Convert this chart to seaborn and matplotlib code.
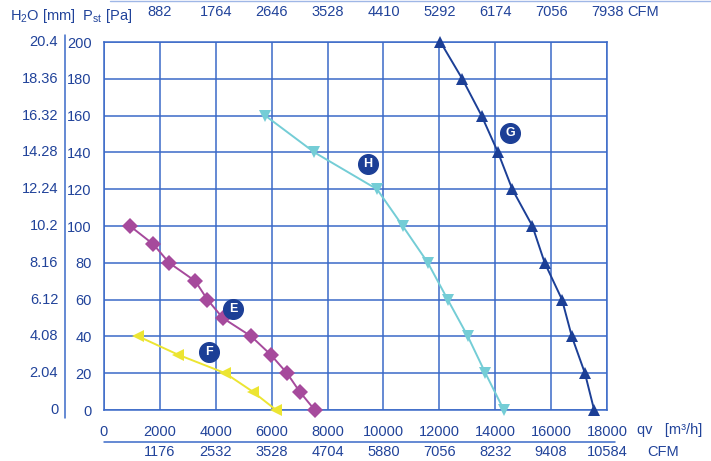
import pandas as pd
import matplotlib.pyplot as plt
import matplotlib.transforms as mtransforms
from matplotlib.lines import Line2D
import seaborn as sns

# Data
e_x = [930, 1770, 2330, 3270, 3700, 4250, 5270, 5970, 6550, 7000, 7540]
e_y = [100, 90, 80, 70, 60, 50, 40, 30, 20, 10, 0]
f_x = [1230, 2660, 4340, 5320, 6160]
f_y = [40, 30, 20, 10, 0]
h_x = [5770, 7530, 9770, 10690, 11590, 12300, 13020, 13650, 14310]
h_y = [160, 140, 120, 100, 80, 60, 40, 20, 0]
g_x = [12040, 12820, 13510, 14100, 14610, 15330, 15770, 16390, 16740, 17210, 17540]
g_y = [200, 180, 160, 140, 120, 100, 80, 60, 40, 20, 0]

tag_names = ["E", "F", "H", "G"]
tag_x = [4630, 3740, 9450, 14530]
tag_y = [54.7, 31.7, 133.5, 150.7]

qv_ticks = [0, 2000, 4000, 6000, 8000, 10000, 12000, 14000, 16000, 18000]
cfm_bottom = ["1176", "2532", "3528", "4704", "5880", "7056", "8232", "9408", "10584"]
cfm_top = ["882", "1764", "2646", "3528", "4410", "5292", "6174", "7056", "7938"]
pa_ticks = [0, 20, 40, 60, 80, 100, 120, 140, 160, 180, 200]
h2o_labels = ["0", "2.04", "4.08", "6.12", "8.16", "10.2", "12.24", "14.28", "16.32", "18.36", "20.4"]

text_col = "#21439a"
grid_col = "#3b69c8"
palette = {"E": "#a64a9c", "F": "#ece532", "H": "#74cdd6", "G": "#1c3f96"}
markers = {"E": "D", "F": "<", "H": "v", "G": "^"}

sns.set_style("white")
plt.rcParams["font.family"] = ["Liberation Sans", "DejaVu Sans"]
plt.rcParams["mathtext.fontset"] = "custom"
plt.rcParams["mathtext.rm"] = "Liberation Sans"
plt.rcParams["font.size"] = 10.5

df = pd.concat([
    pd.DataFrame({"qv": e_x, "pst": e_y, "fan": "E"}),
    pd.DataFrame({"qv": f_x, "pst": f_y, "fan": "F"}),
    pd.DataFrame({"qv": h_x, "pst": h_y, "fan": "H"}),
    pd.DataFrame({"qv": g_x, "pst": g_y, "fan": "G"}),
])

fig = plt.figure(figsize=(7.11, 4.61), dpi=100)
ax = fig.add_axes([104 / 711, 1 - 410 / 461, 503 / 711, 368 / 461])

ax.set_xlim(0, 18000)
ax.set_ylim(0, 200)
ax.set_xticks(qv_ticks)
ax.set_xticks(range(1000, 18000, 2000), minor=True)
ax.set_yticks(pa_ticks)
ax.set_yticks(range(10, 200, 20), minor=True)
ax.set_yticklabels([str(v) for v in pa_ticks])
ax.grid(True, which="major", color=grid_col, lw=1.1)
ax.set_axisbelow(True)
for s in ax.spines.values():
    s.set_color(grid_col)
    s.set_linewidth(1.1)
ax.tick_params(which="major", direction="inout", length=10, width=1.1,
               color=grid_col, labelcolor=text_col, labelsize=10.5)
ax.tick_params(which="minor", direction="inout", length=5, width=1.1, color=grid_col)
ax.tick_params(axis="y", pad=4)
ax.tick_params(axis="x", pad=6)

sns.lineplot(data=df, x="qv", y="pst", hue="fan", style="fan",
             palette=palette, markers=markers, dashes=False, sort=False,
             estimator=None, legend=False, ax=ax, lw=1.4, markersize=8,
             markeredgewidth=0, clip_on=False, zorder=3)

# circled curve tags
ax.scatter(tag_x, tag_y, s=200, color="#1c3f96", zorder=4, clip_on=False)
for n, x, y in zip(tag_names, tag_x, tag_y):
    ax.text(x, y, n, color="white", fontsize=9, fontweight="bold",
            ha="center", va="center", zorder=5)

ax.set_xlabel("")
ax.set_ylabel("")

bt = mtransforms.blended_transform_factory(ax.transData, ax.transAxes)
lt = mtransforms.blended_transform_factory(ax.transAxes, ax.transData)

# H2O scale on the far left
for v, lab in zip(pa_ticks, h2o_labels):
    ax.text(-0.091, v, lab, transform=lt, ha="right", va="center",
            color=text_col, fontsize=10.5)
ax.add_line(Line2D([-0.0775, -0.0775], [-0.022, 1.02], transform=ax.transAxes,
                   color=grid_col, lw=1.1, clip_on=False))

# CFM along the top
for v, lab in zip(qv_ticks[1:], cfm_top):
    ax.text(v, 1.082, lab, transform=bt, ha="center", va="center",
            color=text_col, fontsize=10.5)
ax.text(1.04, 1.082, "CFM", transform=ax.transAxes, ha="left", va="center",
        color=text_col, fontsize=10.5)
ax.text(-0.187, 1.07, "H$_\\mathregular{2}$O [mm]  P$_\\mathregular{st}$ [Pa]",
        transform=ax.transAxes, ha="left", va="center", color=text_col, fontsize=10.5)

# CFM along the bottom
ax.add_line(Line2D([0, 1.015], [-0.087, -0.087], transform=ax.transAxes,
                   color=grid_col, lw=1.1, clip_on=False))
for v, lab in zip(qv_ticks[1:], cfm_bottom):
    ax.text(v, -0.114, lab, transform=bt, ha="center", va="center",
            color=text_col, fontsize=10.5)
ax.text(1.06, -0.055, "qv   [m³/h]", transform=ax.transAxes, ha="left", va="center",
        color=text_col, fontsize=10.5)
ax.text(1.08, -0.114, "CFM", transform=ax.transAxes, ha="left", va="center",
        color=text_col, fontsize=10.5)

fig.add_artist(Line2D([110 / 711, 1], [1 - 1.5 / 461, 1 - 1.5 / 461],
                      color="#9fb7e6", lw=1.0))

fig.savefig("out.png", dpi=100)
